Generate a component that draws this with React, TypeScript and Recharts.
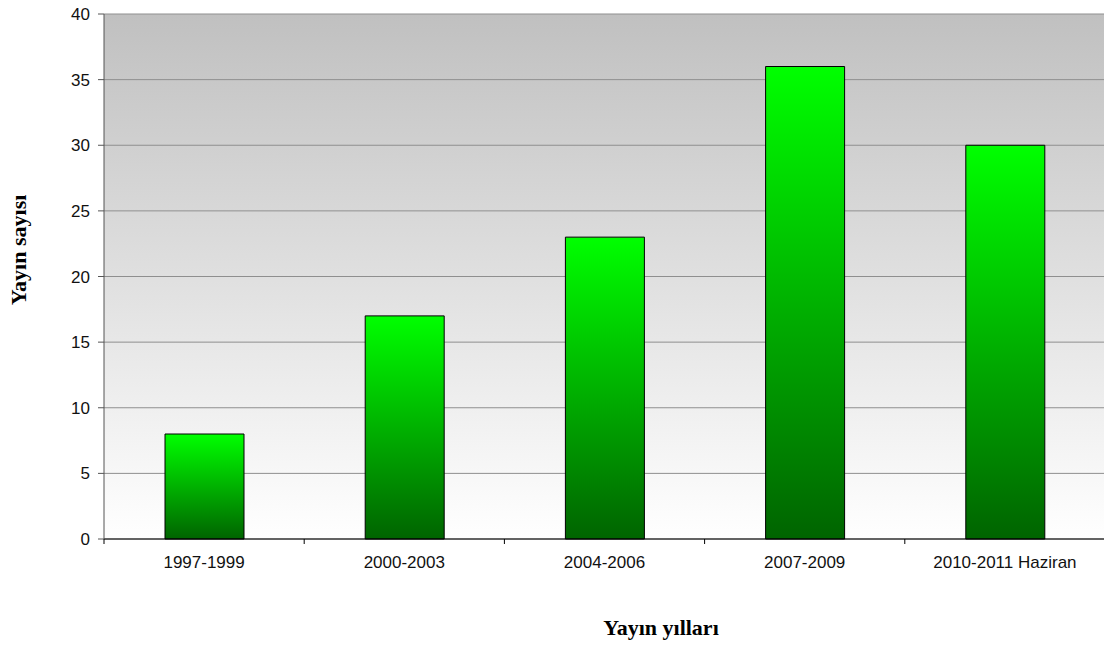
import { BarChart, Bar, XAxis, YAxis, CartesianGrid, Label } from 'recharts';

const categories = ['1997-1999', '2000-2003', '2004-2006', '2007-2009', '2010-2011 Haziran'];
const counts = [8, 17, 23, 36, 30];
const yTicks = [0, 5, 10, 15, 20, 25, 30, 35, 40];

const data = categories.map((name, i) => ({ name, count: counts[i] }));

const PLOT_LEFT = 104;
const PLOT_RIGHT = 1105;
const BAND = (PLOT_RIGHT - PLOT_LEFT) / categories.length;

function XTick(props: any) {
  const { x, y, payload } = props;
  const bx = x - BAND / 2;
  return (
    <g>
      <line x1={bx} y1={y} x2={bx} y2={y + 5} stroke="#000" strokeWidth={1} />
      <text
        x={x}
        y={y + 29}
        textAnchor="middle"
        fill="#111"
        fontSize={17}
        fontFamily="'Liberation Sans', Arial, sans-serif"
      >
        {payload.value}
      </text>
    </g>
  );
}

export default function App() {
  return (
    <div style={{ position: 'absolute', left: 0, top: 0, width: 1104, height: 646, overflow: 'hidden', background: '#fff' }}>
      <BarChart
        width={1110}
        height={646}
        data={data}
        margin={{ top: 14, right: 5, bottom: 0, left: 0 }}
        barCategoryGap={0}
      >
        <defs>
          <linearGradient id="bg" x1="0" y1="0" x2="0" y2="1">
            <stop offset="0%" stopColor="#c0c0c0" />
            <stop offset="100%" stopColor="#ffffff" />
          </linearGradient>
          <linearGradient id="barFill" x1="0" y1="0" x2="0" y2="1">
            <stop offset="0%" stopColor="#00ff00" />
            <stop offset="100%" stopColor="#006400" />
          </linearGradient>
        </defs>
        <CartesianGrid vertical={false} stroke="#8f8f8f" fill="url(#bg)" />
        <XAxis
          dataKey="name"
          height={107}
          axisLine={{ stroke: '#000' }}
          tickLine={false}
          tickSize={0}
          tickMargin={0}
          interval={0}
          tick={<XTick />}
        >
          <Label
            content={() => (
              <text
                x={661}
                y={635}
                textAnchor="middle"
                fontFamily="'Liberation Serif', 'Times New Roman', serif"
                fontWeight="bold"
                fontSize={22}
                fill="#000"
              >
                Yayın yılları
              </text>
            )}
          />
        </XAxis>
        <YAxis
          width={104}
          domain={[0, 40]}
          ticks={yTicks}
          interval={0}
          axisLine={{ stroke: '#555' }}
          tickLine={{ stroke: '#555' }}
          tickSize={6}
          tickMargin={8}
          tick={{ fill: '#111', fontSize: 17, fontFamily: "'Liberation Sans', Arial, sans-serif" }}
        >
          <Label
            content={() => (
              <text
                x={18}
                y={250}
                transform="rotate(-90 18 250)"
                textAnchor="middle"
                dominantBaseline="central"
                fontFamily="'Liberation Serif', 'Times New Roman', serif"
                fontWeight="bold"
                fontSize={22}
                fill="#000"
              >
                Yayın sayısı
              </text>
            )}
          />
        </YAxis>
        <Bar dataKey="count" barSize={79} fill="url(#barFill)" stroke="#000" strokeWidth={1} isAnimationActive={false} />
      </BarChart>
    </div>
  );
}
